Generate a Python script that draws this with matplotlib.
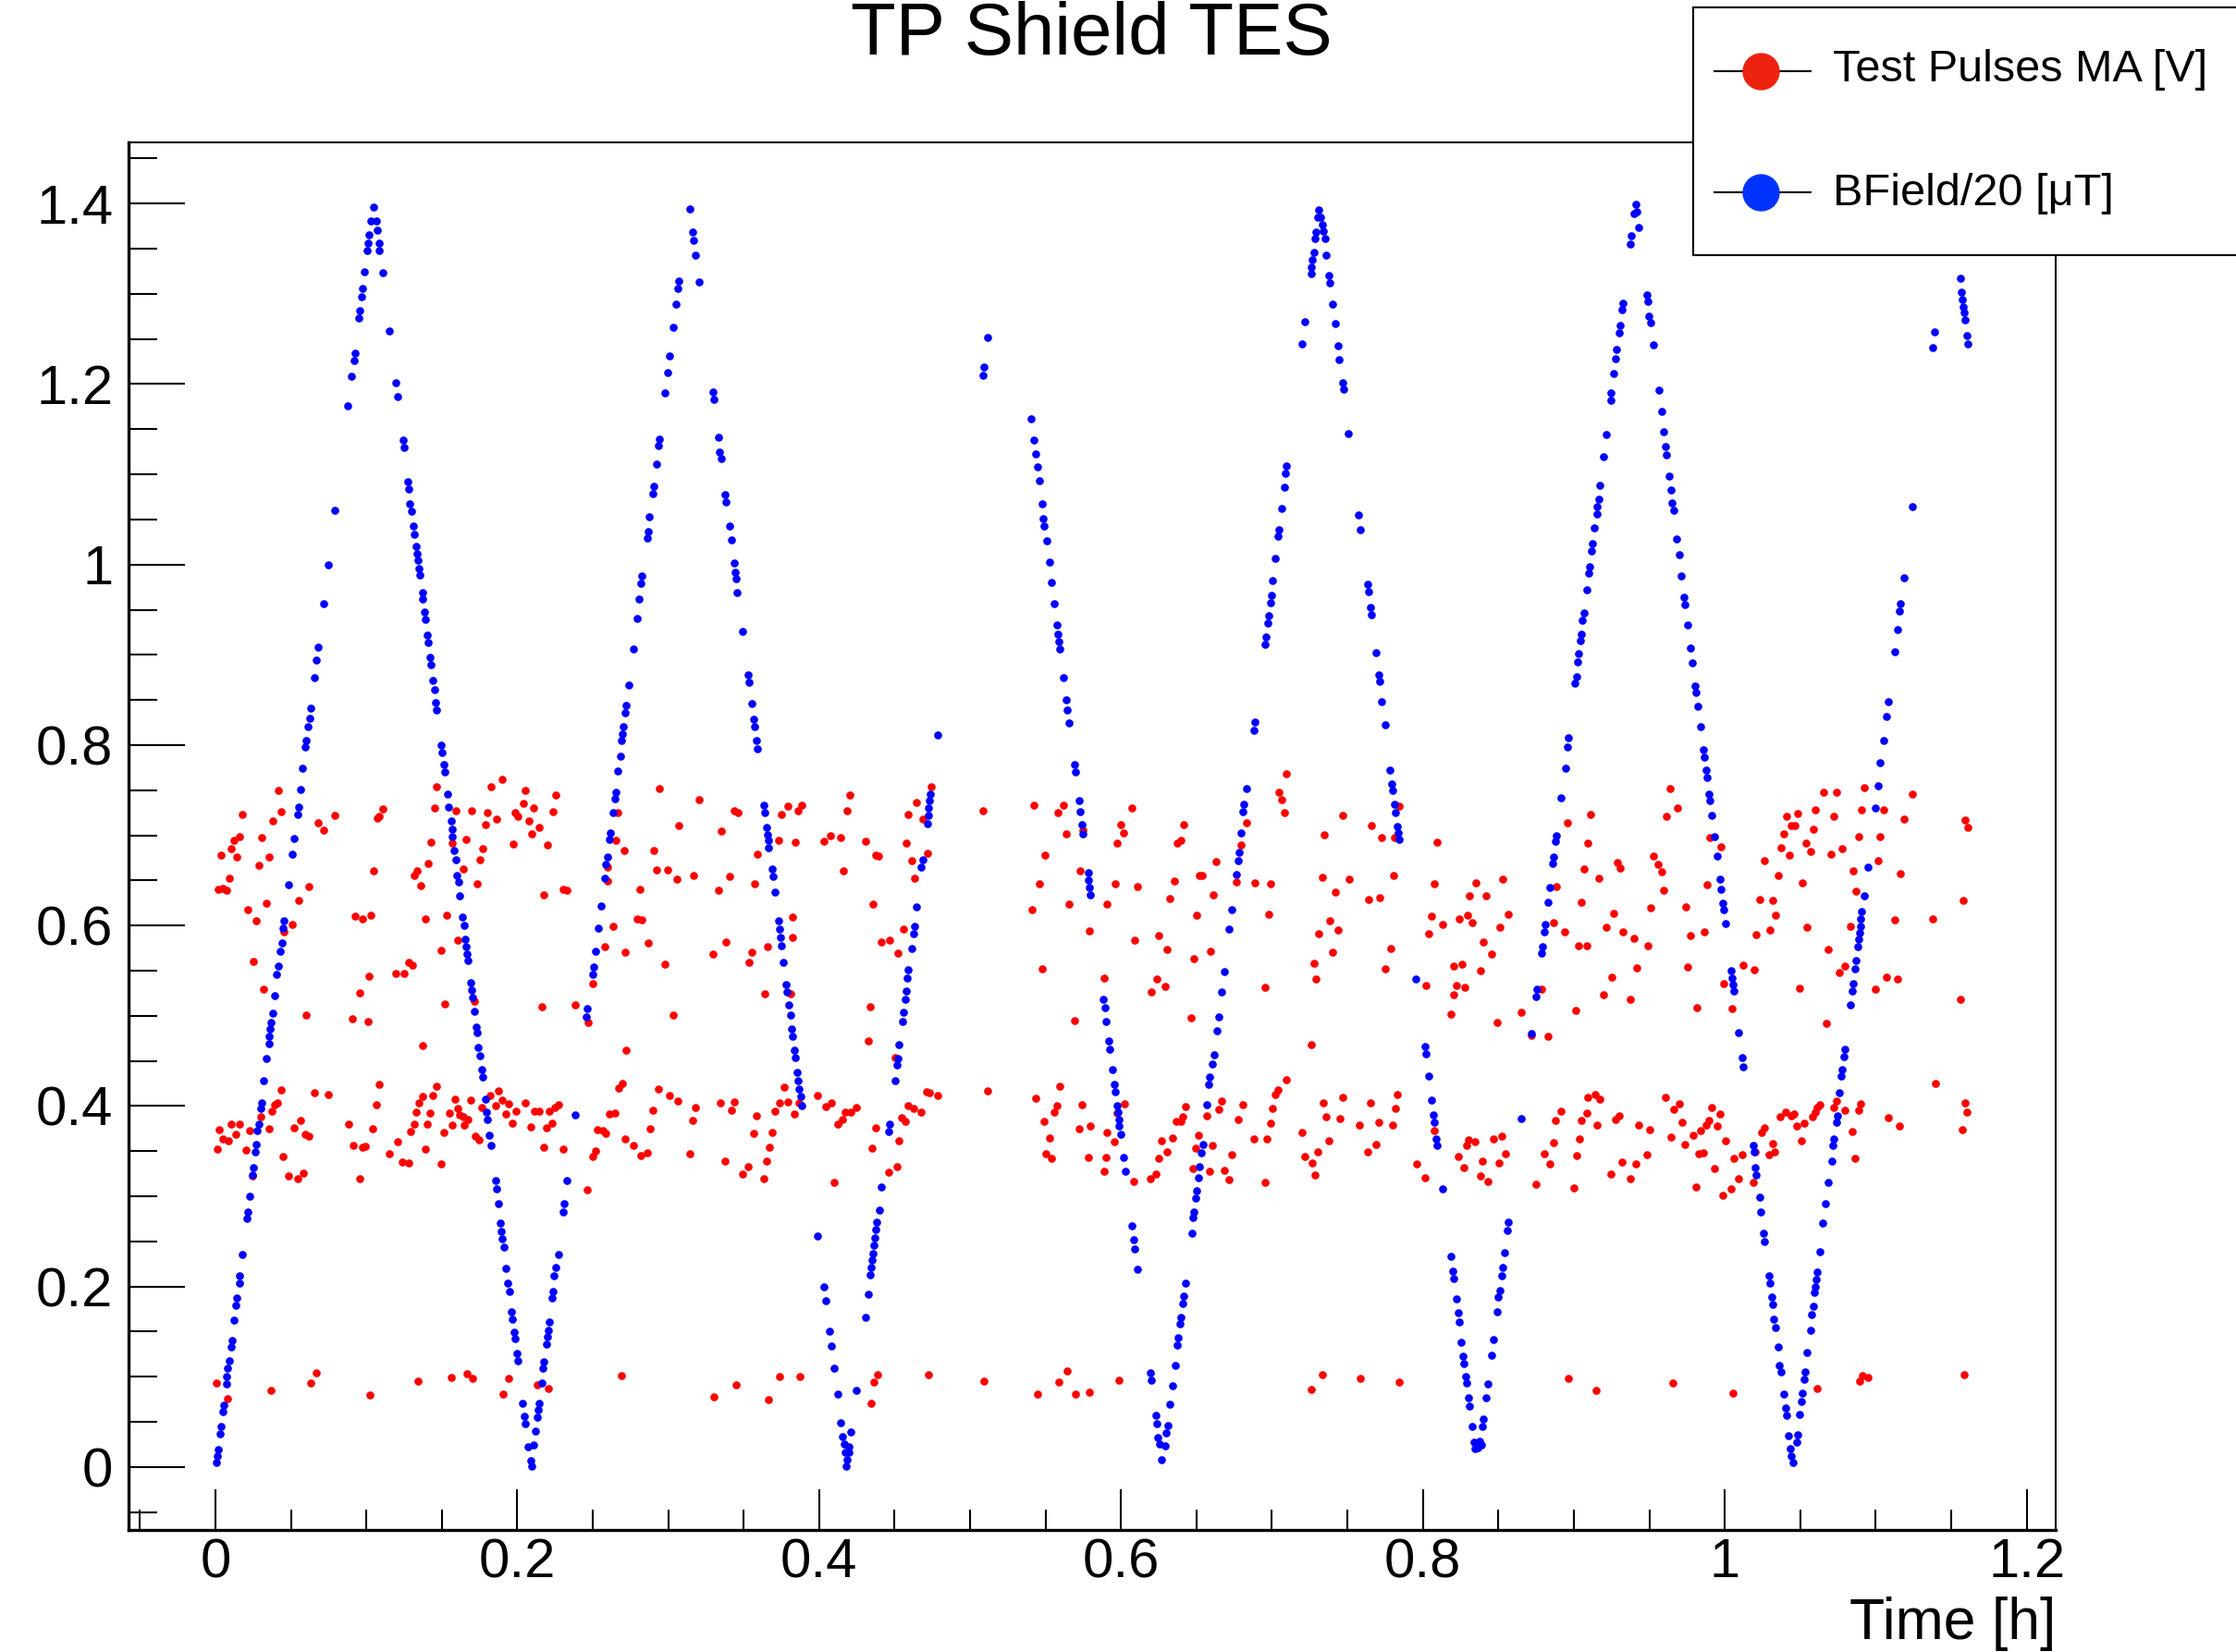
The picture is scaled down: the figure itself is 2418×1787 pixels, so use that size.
import matplotlib
matplotlib.use('Agg')
from matplotlib import pyplot as plt
from matplotlib.patches import Rectangle
from matplotlib.lines import Line2D
from matplotlib.ticker import MultipleLocator, FuncFormatter

# BField/20 [uT] vs time [h], one list per sweep
bfield_a = [
    (0.0007, 0.005), (0.0011, 0.012), (0.0018, 0.019), (0.0032, 0.037), (0.0038, 0.045), (0.0047, 0.061),
    (0.0056, 0.069), (0.0072, 0.092), (0.0077, 0.100), (0.0083, 0.109), (0.0091, 0.118), (0.0102, 0.133),
    (0.0108, 0.140), (0.0125, 0.163), (0.0135, 0.179), (0.0144, 0.187), (0.0157, 0.204), (0.0163, 0.212),
    (0.0180, 0.235), (0.0208, 0.275), (0.0214, 0.283), (0.0227, 0.300), (0.0246, 0.324), (0.0252, 0.332),
    (0.0264, 0.349), (0.0271, 0.357), (0.0279, 0.373), (0.0287, 0.380), (0.0298, 0.397), (0.0306, 0.404),
    (0.0321, 0.428), (0.0340, 0.453), (0.0353, 0.469), (0.0357, 0.477), (0.0363, 0.485), (0.0370, 0.493),
    (0.0378, 0.503), (0.0391, 0.522), (0.0408, 0.546), (0.0416, 0.555), (0.0431, 0.572), (0.0439, 0.581),
    (0.0450, 0.597), (0.0454, 0.605), (0.0484, 0.645), (0.0509, 0.679), (0.0520, 0.696), (0.0543, 0.723),
    (0.0549, 0.731), (0.0564, 0.751), (0.0579, 0.774), (0.0598, 0.798), (0.0604, 0.805), (0.0614, 0.820),
    (0.0623, 0.830), (0.0630, 0.841), (0.0655, 0.875), (0.0670, 0.894), (0.0680, 0.909), (0.0716, 0.957),
    (0.0747, 1.000), (0.0794, 1.060), (0.0878, 1.176), (0.0904, 1.209), (0.0917, 1.226), (0.0925, 1.234),
    (0.0951, 1.273), (0.0957, 1.281), (0.0969, 1.297), (0.0975, 1.306), (0.0988, 1.324), (0.1007, 1.348),
    (0.1011, 1.356), (0.1019, 1.365), (0.1028, 1.381), (0.1050, 1.396), (0.1066, 1.381), (0.1071, 1.371),
    (0.1083, 1.356), (0.1087, 1.348), (0.1107, 1.323), (0.1153, 1.259), (0.1197, 1.202), (0.1207, 1.186),
    (0.1243, 1.138), (0.1251, 1.130), (0.1277, 1.092), (0.1283, 1.084), (0.1290, 1.067), (0.1300, 1.059),
    (0.1313, 1.043), (0.1319, 1.034), (0.1328, 1.020), (0.1334, 1.012), (0.1341, 1.005), (0.1347, 0.996),
    (0.1353, 0.988), (0.1370, 0.969), (0.1376, 0.962), (0.1386, 0.947), (0.1390, 0.939), (0.1403, 0.922),
    (0.1409, 0.914), (0.1420, 0.897), (0.1429, 0.889), (0.1443, 0.872), (0.1450, 0.861), (0.1460, 0.847),
    (0.1464, 0.839), (0.1497, 0.800), (0.1503, 0.792), (0.1514, 0.778), (0.1520, 0.770), (0.1537, 0.746),
    (0.1547, 0.731), (0.1562, 0.716), (0.1569, 0.707), (0.1572, 0.699), (0.1583, 0.683), (0.1593, 0.673),
    (0.1602, 0.656), (0.1610, 0.648), (0.1621, 0.633), (0.1638, 0.609), (0.1646, 0.600), (0.1655, 0.585),
    (0.1661, 0.577), (0.1667, 0.568), (0.1674, 0.561), (0.1693, 0.537), (0.1699, 0.528), (0.1703, 0.520),
    (0.1718, 0.505), (0.1731, 0.488), (0.1737, 0.481), (0.1743, 0.465), (0.1752, 0.456), (0.1765, 0.440),
    (0.1771, 0.432), (0.1788, 0.408), (0.1798, 0.393), (0.1802, 0.385), (0.1817, 0.368), (0.1826, 0.356),
    (0.1855, 0.317), (0.1861, 0.308), (0.1874, 0.292), (0.1889, 0.270), (0.1895, 0.261), (0.1902, 0.253),
    (0.1910, 0.244), (0.1927, 0.220), (0.1937, 0.204), (0.1946, 0.195), (0.1963, 0.172), (0.1969, 0.164),
    (0.1978, 0.149), (0.1984, 0.142), (0.1997, 0.126), (0.2003, 0.118), (0.2037, 0.071), (0.2045, 0.056),
    (0.2051, 0.048), (0.2073, 0.022), (0.2087, 0.007), (0.2094, 0.001), (0.2111, 0.024), (0.2121, 0.040),
    (0.2132, 0.055), (0.2138, 0.063), (0.2144, 0.071), (0.2161, 0.093), (0.2171, 0.109), (0.2178, 0.117),
    (0.2195, 0.136), (0.2201, 0.144), (0.2207, 0.152), (0.2214, 0.161), (0.2233, 0.187), (0.2239, 0.195),
    (0.2245, 0.212), (0.2256, 0.221), (0.2271, 0.236), (0.2304, 0.283), (0.2310, 0.292), (0.2330, 0.317),
    (0.2384, 0.390), (0.2456, 0.499), (0.2463, 0.508), (0.2498, 0.546), (0.2505, 0.554), (0.2517, 0.571),
    (0.2534, 0.597), (0.2555, 0.622), (0.2578, 0.652), (0.2589, 0.668), (0.2596, 0.676), (0.2611, 0.695),
    (0.2615, 0.703),
]

bfield_b = [
    (0.2634, 0.725), (0.2646, 0.741), (0.2653, 0.748), (0.2668, 0.771), (0.2682, 0.788), (0.2691, 0.805),
    (0.2697, 0.812), (0.2703, 0.820), (0.2716, 0.836), (0.2722, 0.844), (0.2739, 0.867), (0.2769, 0.907),
    (0.2794, 0.940), (0.2809, 0.962), (0.2821, 0.979), (0.2828, 0.987), (0.2861, 1.029), (0.2866, 1.037),
    (0.2877, 1.053), (0.2896, 1.079), (0.2904, 1.087), (0.2921, 1.111), (0.2935, 1.132), (0.2941, 1.139),
    (0.2979, 1.190), (0.2997, 1.213), (0.3009, 1.231), (0.3035, 1.263), (0.3054, 1.289), (0.3066, 1.306),
    (0.3073, 1.314), (0.3145, 1.394), (0.3161, 1.368), (0.3170, 1.359), (0.3183, 1.343), (0.3203, 1.313),
    (0.3294, 1.191), (0.3303, 1.183), (0.3332, 1.141), (0.3340, 1.125), (0.3349, 1.118), (0.3379, 1.078),
    (0.3385, 1.069), (0.3404, 1.043), (0.3417, 1.027), (0.3436, 1.002), (0.3442, 0.992), (0.3448, 0.984),
    (0.3459, 0.969), (0.3492, 0.926), (0.3529, 0.878), (0.3535, 0.870), (0.3554, 0.846), (0.3567, 0.829),
    (0.3573, 0.820), (0.3583, 0.805), (0.3589, 0.796), (0.3636, 0.733), (0.3642, 0.725), (0.3650, 0.709),
    (0.3657, 0.701), (0.3665, 0.694), (0.3667, 0.686), (0.3689, 0.663), (0.3695, 0.654), (0.3706, 0.637),
    (0.3731, 0.605), (0.3738, 0.596), (0.3746, 0.587), (0.3752, 0.578), (0.3765, 0.559), (0.3782, 0.535),
    (0.3788, 0.526), (0.3801, 0.512), (0.3809, 0.501), (0.3819, 0.485), (0.3826, 0.477), (0.3836, 0.462),
    (0.3843, 0.454), (0.3857, 0.437), (0.3862, 0.428), (0.3868, 0.419), (0.3877, 0.411), (0.3885, 0.400),
    (0.3991, 0.256), (0.4030, 0.200), (0.4045, 0.184), (0.4071, 0.150), (0.4081, 0.134), (0.4100, 0.110),
    (0.4121, 0.081), (0.4143, 0.049), (0.4157, 0.034), (0.4164, 0.025), (0.4172, 0.016), (0.4181, 0.001),
    (0.4186, 0.008), (0.4195, 0.016), (0.4199, 0.022), (0.4212, 0.039), (0.4246, 0.085), (0.4307, 0.166),
    (0.4326, 0.191), (0.4340, 0.213), (0.4347, 0.221), (0.4351, 0.229), (0.4358, 0.237), (0.4364, 0.246),
    (0.4370, 0.254), (0.4377, 0.263), (0.4383, 0.271), (0.4397, 0.285), (0.4412, 0.310), (0.4459, 0.372),
    (0.4467, 0.380), (0.4503, 0.428), (0.4516, 0.445), (0.4522, 0.453), (0.4530, 0.468), (0.4552, 0.494),
    (0.4558, 0.504), (0.4570, 0.518), (0.4577, 0.527), (0.4583, 0.542), (0.4592, 0.551), (0.4611, 0.575),
    (0.4626, 0.591), (0.4632, 0.599), (0.4647, 0.621), (0.4676, 0.665), (0.4685, 0.673), (0.4716, 0.713),
    (0.4722, 0.722), (0.4727, 0.730), (0.4733, 0.738), (0.4737, 0.746), (0.4786, 0.811),
]

bfield_c = [
    (0.5085, 1.210), (0.5094, 1.219), (0.5114, 1.252),
    (0.5406, 1.162), (0.5423, 1.138), (0.5433, 1.123), (0.5446, 1.108), (0.5459, 1.093), (0.5476, 1.067),
    (0.5486, 1.051), (0.5493, 1.043), (0.5507, 1.026), (0.5524, 1.003), (0.5539, 0.980), (0.5558, 0.957),
    (0.5577, 0.933), (0.5584, 0.923), (0.5587, 0.915), (0.5594, 0.906), (0.5617, 0.875), (0.5638, 0.850),
    (0.5644, 0.839), (0.5657, 0.825), (0.5691, 0.778), (0.5698, 0.770), (0.5723, 0.738), (0.5731, 0.726),
    (0.5739, 0.712), (0.5748, 0.702), (0.5781, 0.659), (0.5786, 0.650), (0.5792, 0.642), (0.5799, 0.634),
    (0.5883, 0.518), (0.5892, 0.509), (0.5902, 0.494), (0.5921, 0.472), (0.5927, 0.463), (0.5942, 0.440),
    (0.5955, 0.424), (0.5963, 0.416), (0.5976, 0.400), (0.5980, 0.393), (0.5984, 0.385), (0.5989, 0.378),
    (0.5997, 0.369), (0.6016, 0.343), (0.6027, 0.328), (0.6073, 0.267), (0.6084, 0.252), (0.6092, 0.242),
    (0.6111, 0.219), (0.6193, 0.104), (0.6200, 0.096), (0.6231, 0.057), (0.6237, 0.048), (0.6246, 0.033),
    (0.6253, 0.025), (0.6265, 0.008), (0.6293, 0.023), (0.6301, 0.038), (0.6309, 0.046), (0.6324, 0.070),
    (0.6341, 0.090), (0.6358, 0.113), (0.6372, 0.135), (0.6379, 0.143), (0.6391, 0.159), (0.6398, 0.166),
    (0.6408, 0.181), (0.6415, 0.189), (0.6425, 0.204), (0.6468, 0.259), (0.6476, 0.276), (0.6484, 0.283),
    (0.6495, 0.298), (0.6503, 0.306), (0.6514, 0.321), (0.6522, 0.333), (0.6533, 0.348), (0.6541, 0.357),
    (0.6570, 0.401), (0.6582, 0.424), (0.6588, 0.432), (0.6607, 0.447), (0.6615, 0.457), (0.6634, 0.483),
    (0.6645, 0.499), (0.6666, 0.526), (0.6685, 0.549), (0.6717, 0.596), (0.6734, 0.618), (0.6763, 0.657),
    (0.6774, 0.672), (0.6780, 0.681), (0.6794, 0.703), (0.6809, 0.726), (0.6815, 0.734), (0.6832, 0.752),
    (0.6879, 0.816), (0.6887, 0.826), (0.6953, 0.912), (0.6959, 0.920), (0.6970, 0.935), (0.6978, 0.943),
    (0.6989, 0.958), (0.6995, 0.966), (0.7006, 0.982), (0.7022, 1.007), (0.7039, 1.031), (0.7048, 1.039),
    (0.7065, 1.062), (0.7082, 1.086), (0.7092, 1.101), (0.7098, 1.109), (0.7200, 1.245), (0.7219, 1.269),
    (0.7259, 1.322), (0.7263, 1.330), (0.7269, 1.338), (0.7276, 1.346), (0.7284, 1.361), (0.7291, 1.369),
    (0.7301, 1.385), (0.7311, 1.393), (0.7322, 1.385), (0.7335, 1.377), (0.7341, 1.370), (0.7350, 1.361),
    (0.7360, 1.343), (0.7377, 1.320), (0.7384, 1.312), (0.7401, 1.289), (0.7417, 1.267), (0.7436, 1.243),
    (0.7447, 1.227), (0.7466, 1.202), (0.7472, 1.194), (0.7507, 1.145), (0.7576, 1.055), (0.7588, 1.039),
    (0.7634, 0.978), (0.7640, 0.970), (0.7652, 0.953), (0.7658, 0.944), (0.7690, 0.902), (0.7706, 0.878),
    (0.7712, 0.871), (0.7727, 0.848), (0.7748, 0.822), (0.7782, 0.772), (0.7792, 0.757), (0.7799, 0.750),
    (0.7814, 0.734), (0.7820, 0.725), (0.7829, 0.710), (0.7835, 0.703), (0.7841, 0.695),
    (0.7955, 0.541), (0.8014, 0.466), (0.8020, 0.458), (0.8038, 0.433), (0.8058, 0.407), (0.8071, 0.390),
    (0.8077, 0.382), (0.8088, 0.364), (0.8096, 0.356), (0.8132, 0.308), (0.8187, 0.233), (0.8200, 0.217),
    (0.8206, 0.209), (0.8223, 0.186), (0.8233, 0.171), (0.8239, 0.161), (0.8256, 0.138), (0.8267, 0.123),
    (0.8273, 0.115), (0.8286, 0.100), (0.8292, 0.093), (0.8301, 0.077), (0.8307, 0.068), (0.8326, 0.045),
    (0.8339, 0.028), (0.8345, 0.020), (0.8356, 0.024), (0.8366, 0.021), (0.8377, 0.029), (0.8385, 0.024),
    (0.8396, 0.045), (0.8402, 0.053), (0.8419, 0.077), (0.8430, 0.092), (0.8457, 0.124), (0.8468, 0.141),
    (0.8491, 0.172), (0.8501, 0.188), (0.8508, 0.196), (0.8525, 0.212), (0.8531, 0.221), (0.8540, 0.238),
    (0.8557, 0.262), (0.8563, 0.271), (0.8651, 0.386), (0.8721, 0.480), (0.8751, 0.521), (0.8757, 0.530),
    (0.8787, 0.569), (0.8793, 0.577), (0.8804, 0.593), (0.8810, 0.601), (0.8829, 0.626), (0.8842, 0.642),
    (0.8858, 0.669), (0.8865, 0.676), (0.8879, 0.693), (0.8886, 0.700),
]

bfield_d = [
    (0.8915, 0.742), (0.8943, 0.774), (0.8957, 0.798), (0.8964, 0.808), (0.9008, 0.869), (0.9017, 0.876),
    (0.9027, 0.892), (0.9033, 0.901), (0.9044, 0.916), (0.9050, 0.923), (0.9058, 0.938), (0.9065, 0.946),
    (0.9086, 0.972), (0.9101, 0.990), (0.9107, 0.998), (0.9119, 1.015), (0.9126, 1.023), (0.9138, 1.041),
    (0.9151, 1.056), (0.9156, 1.064), (0.9164, 1.072), (0.9175, 1.088), (0.9195, 1.120), (0.9215, 1.144),
    (0.9245, 1.182), (0.9248, 1.190), (0.9265, 1.212), (0.9276, 1.228), (0.9284, 1.238), (0.9299, 1.257),
    (0.9308, 1.265), (0.9318, 1.282), (0.9324, 1.290), (0.9373, 1.355), (0.9381, 1.364), (0.9396, 1.389),
    (0.9411, 1.399), (0.9419, 1.391), (0.9430, 1.374), (0.9483, 1.299), (0.9489, 1.292), (0.9498, 1.275),
    (0.9506, 1.268), (0.9525, 1.244), (0.9563, 1.193), (0.9580, 1.170), (0.9594, 1.147), (0.9607, 1.131),
    (0.9616, 1.122), (0.9633, 1.098), (0.9643, 1.083), (0.9652, 1.068), (0.9660, 1.060), (0.9683, 1.028),
    (0.9698, 1.011), (0.9713, 0.987), (0.9730, 0.964), (0.9738, 0.956), (0.9757, 0.933), (0.9772, 0.908),
    (0.9784, 0.891), (0.9803, 0.866), (0.9812, 0.858), (0.9823, 0.843), (0.9837, 0.820), (0.9856, 0.795),
    (0.9865, 0.787), (0.9875, 0.772), (0.9881, 0.764), (0.9894, 0.746), (0.9900, 0.738), (0.9911, 0.722),
    (0.9932, 0.699), (0.9947, 0.677), (0.9966, 0.651), (0.9974, 0.640), (0.9985, 0.625), (0.9993, 0.618),
    (1.0004, 0.602), (1.0044, 0.550), (1.0050, 0.542), (1.0057, 0.535), (1.0063, 0.527), (1.0092, 0.481),
    (1.0116, 0.454), (1.0122, 0.443), (1.0187, 0.356), (1.0193, 0.349), (1.0203, 0.332), (1.0210, 0.324),
    (1.0231, 0.299), (1.0241, 0.283), (1.0258, 0.259), (1.0264, 0.250), (1.0291, 0.212), (1.0297, 0.204),
    (1.0310, 0.188), (1.0318, 0.180), (1.0325, 0.164), (1.0333, 0.155), (1.0352, 0.133), (1.0363, 0.113),
    (1.0371, 0.105), (1.0390, 0.081), (1.0401, 0.065), (1.0407, 0.057), (1.0422, 0.035), (1.0435, 0.020),
    (1.0439, 0.012), (1.0451, 0.005), (1.0475, 0.028), (1.0481, 0.036), (1.0496, 0.058), (1.0506, 0.073),
    (1.0515, 0.082), (1.0525, 0.097), (1.0531, 0.105), (1.0546, 0.127), (1.0567, 0.152), (1.0578, 0.169),
    (1.0586, 0.178), (1.0594, 0.193), (1.0601, 0.200), (1.0607, 0.208), (1.0613, 0.216), (1.0632, 0.239),
    (1.0651, 0.270), (1.0669, 0.292), (1.0688, 0.315), (1.0707, 0.339), (1.0717, 0.356), (1.0723, 0.364),
    (1.0739, 0.382), (1.0745, 0.389), (1.0761, 0.415), (1.0774, 0.433), (1.0780, 0.440), (1.0789, 0.455),
    (1.0795, 0.463), (1.0833, 0.512), (1.0844, 0.527), (1.0850, 0.536), (1.0863, 0.552), (1.0869, 0.561),
    (1.0882, 0.577), (1.0888, 0.585), (1.0893, 0.592), (1.0897, 0.599), (1.0901, 0.607), (1.0907, 0.616),
    (1.0922, 0.633), (1.0947, 0.665), (1.0996, 0.730), (1.1017, 0.755), (1.1031, 0.780), (1.1052, 0.805),
    (1.1073, 0.832), (1.1082, 0.848), (1.1124, 0.903), (1.1143, 0.928), (1.1155, 0.949), (1.1162, 0.957),
    (1.1185, 0.985), (1.1244, 1.064), (1.1375, 1.240), (1.1392, 1.258), (1.1559, 1.317), (1.1569, 1.302),
    (1.1576, 1.294), (1.1582, 1.286), (1.1586, 1.279), (1.1593, 1.271), (1.1603, 1.254), (1.1611, 1.245),
]

# Test Pulses MA [V], three amplitude bands
pulses_high = [
    (0.0125, 0.694), (0.0161, 0.699), (0.0180, 0.723), (0.0306, 0.697), (0.0378, 0.716), (0.0416, 0.750),
    (0.0437, 0.726), (0.0682, 0.714), (0.0716, 0.706), (0.0794, 0.722), (0.1071, 0.719), (0.1088, 0.721),
    (0.1107, 0.729), (0.1429, 0.692), (0.1450, 0.730), (0.1467, 0.754), (0.1570, 0.691), (0.1592, 0.727),
    (0.1664, 0.695), (0.1699, 0.727), (0.1790, 0.712), (0.1804, 0.725), (0.1828, 0.754), (0.1861, 0.718),
    (0.1899, 0.762), (0.1971, 0.690), (0.1986, 0.725), (0.2005, 0.721), (0.2039, 0.735), (0.2055, 0.750),
    (0.2077, 0.716), (0.2094, 0.702), (0.2111, 0.730), (0.2146, 0.709), (0.2201, 0.689), (0.2237, 0.726),
    (0.2258, 0.745), (0.2651, 0.694), (0.2668, 0.725),
    (0.0037, 0.678), (0.0106, 0.685), (0.0144, 0.676), (0.0091, 0.652), (0.0018, 0.640), (0.0051, 0.641),
    (0.0072, 0.639), (0.0214, 0.618), (0.0268, 0.605), (0.0252, 0.560), (0.0321, 0.530), (0.0287, 0.667),
    (0.0340, 0.625), (0.0359, 0.676), (0.0454, 0.593), (0.0509, 0.601), (0.0549, 0.628), (0.0602, 0.501),
    (0.0621, 0.643), (0.0908, 0.497), (0.0923, 0.610), (0.0977, 0.607), (0.1032, 0.611), (0.0956, 0.525),
    (0.1009, 0.494), (0.1015, 0.544), (0.1049, 0.661), (0.1195, 0.547), (0.1252, 0.547), (0.1284, 0.559),
    (0.1307, 0.556), (0.1315, 0.656), (0.1339, 0.661), (0.1358, 0.644), (0.1376, 0.467), (0.1390, 0.607),
    (0.1409, 0.669), (0.1498, 0.573), (0.1519, 0.513), (0.1534, 0.611), (0.1606, 0.584), (0.1642, 0.663),
    (0.1714, 0.516), (0.1735, 0.646), (0.1754, 0.673), (0.1771, 0.685), (0.2161, 0.510), (0.2178, 0.634),
    (0.2302, 0.640), (0.2330, 0.639), (0.2383, 0.512), (0.2469, 0.493), (0.2503, 0.536), (0.2579, 0.577),
    (0.2600, 0.665), (0.2600, 0.649), (0.2632, 0.599), (0.2706, 0.683), (0.2716, 0.570), (0.2722, 0.462),
    (0.2942, 0.752), (0.3073, 0.711), (0.3203, 0.740), (0.3349, 0.705), (0.3440, 0.727), (0.3461, 0.725),
    (0.3731, 0.694), (0.3752, 0.723), (0.3790, 0.732), (0.3840, 0.692), (0.3862, 0.727), (0.3883, 0.733),
    (0.4031, 0.693), (0.4073, 0.700), (0.4144, 0.697), (0.4182, 0.727), (0.4202, 0.745), (0.4305, 0.693),
    (0.4579, 0.691), (0.4592, 0.723), (0.4647, 0.736), (0.4685, 0.718), (0.4740, 0.754), (0.5085, 0.727),
    (0.5423, 0.733), (0.5584, 0.725), (0.5619, 0.733), (0.5638, 0.702), (0.5750, 0.706),
    (0.2904, 0.683), (0.2923, 0.662), (0.2999, 0.662), (0.3056, 0.651), (0.2811, 0.640), (0.2794, 0.607),
    (0.2828, 0.606), (0.2866, 0.581), (0.2979, 0.557), (0.3035, 0.501), (0.3170, 0.656), (0.3335, 0.639),
    (0.3404, 0.654), (0.3294, 0.568), (0.3385, 0.582), (0.3535, 0.559), (0.3551, 0.570), (0.3571, 0.646),
    (0.3588, 0.679), (0.3659, 0.577), (0.3640, 0.524), (0.3822, 0.609), (0.3826, 0.587), (0.3809, 0.524),
    (0.4163, 0.661), (0.4359, 0.624), (0.4372, 0.678), (0.4395, 0.677), (0.4340, 0.510), (0.4326, 0.472),
    (0.4412, 0.582), (0.4467, 0.584), (0.4520, 0.569), (0.4558, 0.596), (0.4611, 0.672), (0.4630, 0.652),
    (0.4721, 0.680), (0.4501, 0.454), (0.5409, 0.618), (0.5459, 0.646), (0.5495, 0.678), (0.5476, 0.552),
    (0.5657, 0.624), (0.5693, 0.495), (0.5727, 0.661), (0.5788, 0.594), (0.5891, 0.542), (0.5908, 0.624),
    (0.5976, 0.691), (0.5997, 0.712), (0.6016, 0.703), (0.6073, 0.730), (0.6373, 0.691), (0.6398, 0.694),
    (0.6415, 0.712), (0.6794, 0.689), (0.6830, 0.714), (0.7048, 0.748), (0.7065, 0.740), (0.7082, 0.725),
    (0.7098, 0.768), (0.7348, 0.701), (0.7469, 0.722), (0.7658, 0.711), (0.7727, 0.698), (0.7814, 0.698),
    (0.7843, 0.732), (0.8096, 0.692), (0.8957, 0.714), (0.9111, 0.723),
    (0.5963, 0.646), (0.6111, 0.643), (0.6092, 0.584), (0.6252, 0.589), (0.6305, 0.574), (0.6324, 0.630),
    (0.6355, 0.649), (0.6200, 0.526), (0.6237, 0.541), (0.6290, 0.533), (0.6466, 0.498), (0.6482, 0.563),
    (0.6501, 0.611), (0.6520, 0.656), (0.6540, 0.656), (0.6594, 0.571), (0.6613, 0.634), (0.6632, 0.671),
    (0.6763, 0.648), (0.6888, 0.647), (0.6994, 0.646), (0.6977, 0.612), (0.6957, 0.532), (0.7259, 0.468),
    (0.7276, 0.558), (0.7293, 0.541), (0.7310, 0.591), (0.7385, 0.605), (0.7436, 0.595), (0.7331, 0.653),
    (0.7401, 0.570), (0.7417, 0.637), (0.7510, 0.651), (0.7639, 0.629), (0.7712, 0.631), (0.7748, 0.552),
    (0.7786, 0.575), (0.7803, 0.656), (0.8019, 0.534), (0.8038, 0.591), (0.8058, 0.610), (0.8077, 0.646),
    (0.8132, 0.601), (0.8187, 0.502), (0.8202, 0.523), (0.8206, 0.555), (0.8223, 0.534), (0.8240, 0.607),
    (0.8261, 0.557), (0.8278, 0.532), (0.8295, 0.611), (0.8311, 0.633), (0.8328, 0.603), (0.8349, 0.647),
    (0.8383, 0.550), (0.8402, 0.582), (0.8419, 0.633), (0.8457, 0.568), (0.8489, 0.493), (0.8510, 0.598),
    (0.8529, 0.651), (0.8563, 0.612), (0.8651, 0.504), (0.8721, 0.478), (0.8788, 0.529), (0.8829, 0.477),
    (0.8887, 0.643), (0.8866, 0.603), (0.8940, 0.593), (0.9014, 0.506), (0.9031, 0.578), (0.9084, 0.578),
    (0.9052, 0.626), (0.9069, 0.663), (0.9094, 0.691),
    (0.9616, 0.721), (0.9635, 0.752), (0.9688, 0.730), (0.9898, 0.697), (1.0390, 0.702), (1.0409, 0.721),
    (1.0439, 0.711), (1.0462, 0.711), (1.0481, 0.724), (1.0536, 0.691), (1.0586, 0.707), (1.0600, 0.728),
    (1.0653, 0.748), (1.0725, 0.721), (1.0742, 0.748), (1.0890, 0.699), (1.0905, 0.728), (1.0924, 0.753),
    (1.1031, 0.699), (1.1052, 0.728), (1.1187, 0.718), (1.1244, 0.746), (1.1592, 0.717), (1.1611, 0.709),
    (0.9164, 0.652), (0.9215, 0.598), (0.9250, 0.543), (0.9195, 0.523), (0.9266, 0.614), (0.9287, 0.670),
    (0.9308, 0.664), (0.9323, 0.593), (0.9397, 0.586), (0.9377, 0.518), (0.9415, 0.553), (0.9489, 0.578),
    (0.9506, 0.620), (0.9525, 0.677), (0.9561, 0.668), (0.9582, 0.660), (0.9597, 0.639), (0.9740, 0.621),
    (0.9757, 0.554), (0.9774, 0.589), (0.9814, 0.509), (0.9866, 0.593), (0.9883, 0.645), (0.9973, 0.687),
    (0.9993, 0.536), (1.0048, 0.508), (1.0122, 0.556), (1.0194, 0.551), (1.0209, 0.590), (1.0230, 0.629),
    (1.0265, 0.672), (1.0318, 0.628), (1.0335, 0.611), (1.0298, 0.595), (1.0354, 0.655), (1.0375, 0.686),
    (1.0428, 0.678), (1.0496, 0.531), (1.0515, 0.647), (1.0568, 0.682), (1.0546, 0.598), (1.0670, 0.492),
    (1.0687, 0.574), (1.0706, 0.679), (1.0779, 0.685), (1.0761, 0.548), (1.0797, 0.555), (1.0833, 0.599),
    (1.0852, 0.661), (1.0870, 0.638), (1.1000, 0.529), (1.1019, 0.672), (1.1073, 0.543), (1.1143, 0.541),
    (1.1126, 0.606), (1.1166, 0.658), (1.1378, 0.607), (1.1561, 0.518), (1.1578, 0.628),
]

pulses_mid = [
    (0.0028, 0.374), (0.0047, 0.364), (0.0085, 0.361), (0.0011, 0.352), (0.0102, 0.380), (0.0157, 0.380),
    (0.0138, 0.369), (0.0205, 0.351), (0.0227, 0.373), (0.0248, 0.323), (0.0300, 0.388), (0.0353, 0.375),
    (0.0372, 0.394), (0.0395, 0.401), (0.0412, 0.403), (0.0433, 0.418), (0.0448, 0.344), (0.0486, 0.323),
    (0.0543, 0.320), (0.0581, 0.326), (0.0522, 0.376), (0.0564, 0.384), (0.0598, 0.369), (0.0621, 0.367),
    (0.0655, 0.415), (0.0750, 0.413), (0.0880, 0.380), (0.0916, 0.356), (0.0975, 0.354), (0.0996, 0.355),
    (0.0955, 0.320), (0.1043, 0.375), (0.1064, 0.401), (0.1085, 0.424), (0.1153, 0.347), (0.1208, 0.360),
    (0.1239, 0.338), (0.1282, 0.337), (0.1296, 0.372), (0.1317, 0.380), (0.1332, 0.393), (0.1349, 0.403),
    (0.1370, 0.411), (0.1389, 0.352), (0.1405, 0.380), (0.1424, 0.392), (0.1443, 0.412), (0.1462, 0.422),
    (0.1498, 0.336), (0.1515, 0.371), (0.1550, 0.392), (0.1566, 0.379), (0.1585, 0.408), (0.1604, 0.397),
    (0.1619, 0.390), (0.1640, 0.388), (0.1651, 0.379), (0.1674, 0.385), (0.1693, 0.407), (0.1724, 0.367),
    (0.1747, 0.363), (0.1766, 0.398), (0.1819, 0.412), (0.1874, 0.417), (0.1897, 0.407), (0.1940, 0.402),
    (0.1994, 0.394), (0.1855, 0.400), (0.1925, 0.391), (0.1967, 0.381), (0.2051, 0.403), (0.2089, 0.377),
    (0.2114, 0.394), (0.2144, 0.394), (0.2174, 0.354), (0.2195, 0.376), (0.2214, 0.394), (0.2233, 0.381),
    (0.2252, 0.398), (0.2273, 0.401), (0.2307, 0.352), (0.2463, 0.307), (0.2500, 0.344), (0.2517, 0.350),
    (0.2531, 0.374), (0.2568, 0.373), (0.2589, 0.370), (0.2611, 0.391), (0.2646, 0.392), (0.2673, 0.420),
    (0.2694, 0.425), (0.2716, 0.364),
    (0.2769, 0.356), (0.2821, 0.345), (0.2861, 0.348), (0.2878, 0.375), (0.2898, 0.395), (0.2935, 0.419),
    (0.3009, 0.412), (0.3064, 0.406), (0.3145, 0.347), (0.3164, 0.384), (0.3183, 0.398), (0.3343, 0.404),
    (0.3378, 0.339), (0.3419, 0.395), (0.3438, 0.405), (0.3493, 0.325), (0.3529, 0.333), (0.3568, 0.370),
    (0.3583, 0.389), (0.3636, 0.319), (0.3653, 0.339), (0.3672, 0.354), (0.3689, 0.371), (0.3706, 0.394),
    (0.3739, 0.404), (0.3767, 0.421), (0.3794, 0.405), (0.3836, 0.391), (0.3868, 0.403), (0.3991, 0.412),
    (0.4045, 0.399), (0.4083, 0.403), (0.4100, 0.315), (0.4124, 0.380), (0.4153, 0.385), (0.4174, 0.393),
    (0.4210, 0.393), (0.4246, 0.398), (0.4351, 0.353), (0.4372, 0.376), (0.4459, 0.327), (0.4516, 0.333),
    (0.4530, 0.361), (0.4549, 0.387), (0.4573, 0.383), (0.4587, 0.400), (0.4624, 0.397), (0.4678, 0.393),
    (0.4710, 0.416), (0.4733, 0.415), (0.4788, 0.412), (0.5114, 0.417), (0.5436, 0.409), (0.5489, 0.383),
    (0.5524, 0.365), (0.5505, 0.347), (0.5541, 0.342), (0.5560, 0.393), (0.5577, 0.400), (0.5596, 0.422),
    (0.5723, 0.375), (0.5743, 0.401), (0.5781, 0.343), (0.5799, 0.378), (0.5887, 0.328), (0.5908, 0.371),
    (0.5898, 0.343),
    (0.5957, 0.360), (0.5971, 0.392), (0.6025, 0.402), (0.6084, 0.316), (0.6195, 0.320), (0.6231, 0.325),
    (0.6248, 0.342), (0.6265, 0.362), (0.6303, 0.349), (0.6341, 0.365), (0.6368, 0.383), (0.6394, 0.383),
    (0.6411, 0.388), (0.6427, 0.399), (0.6474, 0.331), (0.6493, 0.353), (0.6512, 0.368), (0.6570, 0.389),
    (0.6588, 0.328), (0.6607, 0.356), (0.6645, 0.396), (0.6664, 0.406), (0.6683, 0.329), (0.6717, 0.318),
    (0.6734, 0.346), (0.6774, 0.385), (0.6810, 0.401), (0.6880, 0.364), (0.6953, 0.315), (0.6968, 0.364),
    (0.6989, 0.381), (0.7006, 0.397), (0.7022, 0.413), (0.7039, 0.418), (0.7094, 0.429), (0.7200, 0.371),
    (0.7216, 0.344), (0.7269, 0.337), (0.7288, 0.324), (0.7305, 0.349), (0.7341, 0.403), (0.7360, 0.388),
    (0.7379, 0.361), (0.7449, 0.386), (0.7466, 0.410), (0.7577, 0.379), (0.7634, 0.349), (0.7651, 0.404),
    (0.7691, 0.357), (0.7708, 0.382), (0.7797, 0.379), (0.7816, 0.397), (0.7833, 0.413), (0.7959, 0.336),
    (0.8014, 0.321), (0.8076, 0.373), (0.8234, 0.344), (0.8271, 0.332), (0.8288, 0.356), (0.8303, 0.363),
    (0.8346, 0.360), (0.8379, 0.323), (0.8396, 0.339), (0.8430, 0.316), (0.8466, 0.364), (0.8504, 0.337),
    (0.8520, 0.367), (0.8546, 0.347), (0.8752, 0.313), (0.8804, 0.347), (0.8844, 0.336), (0.8863, 0.359),
    (0.8880, 0.384), (0.8915, 0.394), (0.8999, 0.309), (0.9019, 0.345), (0.9036, 0.364), (0.9052, 0.384),
    (0.9084, 0.392), (0.9094, 0.410),
    (0.9139, 0.413), (0.9175, 0.408), (0.9156, 0.379), (0.9245, 0.325), (0.9320, 0.338), (0.9373, 0.320),
    (0.9409, 0.336), (0.9483, 0.346), (0.9278, 0.385), (0.9299, 0.389), (0.9428, 0.379), (0.9502, 0.374),
    (0.9609, 0.410), (0.9662, 0.396), (0.9698, 0.402), (0.9715, 0.382), (0.9646, 0.366), (0.9734, 0.357),
    (0.9789, 0.368), (0.9808, 0.310), (0.9825, 0.347), (0.9861, 0.348), (0.9842, 0.373), (0.9878, 0.379),
    (0.9897, 0.384), (0.9916, 0.398), (0.9950, 0.378), (0.9969, 0.391), (0.9932, 0.331), (0.9987, 0.301),
    (1.0004, 0.361), (1.0042, 0.308), (1.0059, 0.342), (1.0094, 0.320), (1.0113, 0.346), (1.0186, 0.315),
    (1.0203, 0.349), (1.0243, 0.371), (1.0262, 0.376), (1.0296, 0.346), (1.0315, 0.358), (1.0332, 0.349),
    (1.0369, 0.388), (1.0404, 0.393), (1.0439, 0.389), (1.0458, 0.391), (1.0474, 0.378), (1.0508, 0.361),
    (1.0525, 0.381), (1.0580, 0.388), (1.0597, 0.393), (1.0613, 0.398), (1.0632, 0.401), (1.0721, 0.398),
    (1.0742, 0.406), (1.0793, 0.395), (1.0846, 0.372), (1.0865, 0.342), (1.0886, 0.395), (1.0901, 0.402),
    (1.1084, 0.387), (1.1160, 0.378), (1.1393, 0.425), (1.1591, 0.404), (1.1607, 0.393), (1.1572, 0.374),
]

pulses_low = [
    (0.0007, 0.093), (0.0079, 0.076), (0.0366, 0.085), (0.0629, 0.093), (0.0670, 0.104), (0.1022, 0.080),
    (0.1342, 0.095), (0.1560, 0.099), (0.1667, 0.103), (0.1703, 0.098), (0.1906, 0.081), (0.1940, 0.098),
    (0.2132, 0.091), (0.2207, 0.087), (0.2690, 0.101), (0.3301, 0.078), (0.3448, 0.091), (0.3665, 0.075),
    (0.3739, 0.100), (0.3870, 0.100), (0.4347, 0.071), (0.4364, 0.094), (0.4385, 0.102), (0.4727, 0.102),
    (0.5092, 0.095), (0.5446, 0.081), (0.5587, 0.094), (0.5646, 0.106), (0.5698, 0.081), (0.5792, 0.083),
    (0.5987, 0.096), (0.7263, 0.086), (0.7335, 0.102), (0.7588, 0.098), (0.7843, 0.094), (0.8962, 0.098),
    (0.9150, 0.085), (0.9656, 0.093), (1.0055, 0.082), (1.0609, 0.087), (1.0894, 0.095), (1.0911, 0.101),
    (1.0949, 0.099), (1.1584, 0.102),
]

legend_labels = ['Test Pulses MA [V]', 'BField/20 [\u03bcT]']

plt.rcParams['font.family'] = ['Liberation Sans', 'DejaVu Sans']

fig = plt.figure(figsize=(24.18, 17.87), dpi=100)
ax = fig.add_axes([0.0575, 0.0739, 0.8619, 0.8400])

# red test pulses first, the field points sit on top of them
for band in (pulses_high, pulses_mid, pulses_low):
    t, v = zip(*band)
    ax.plot(t, v, 'o', color='#ff0000', ms=6.2, mec='none', ls='none')

t, v = zip(*(bfield_a + bfield_b + bfield_c + bfield_d))
ax.plot(t, v, 'o', color='#0000ff', ms=6.2, mec='none', ls='none')

ax.set_xlim(-0.0575, 1.2193)
ax.set_ylim(-0.0697, 1.468)

# ROOT style axes: ticks inside, only on left and bottom
ax.xaxis.set_major_locator(MultipleLocator(0.2))
ax.xaxis.set_minor_locator(MultipleLocator(0.05))
ax.yaxis.set_major_locator(MultipleLocator(0.2))
ax.yaxis.set_minor_locator(MultipleLocator(0.05))
fmt = FuncFormatter(lambda val, pos: '%g' % round(val, 3))
ax.xaxis.set_major_formatter(fmt)
ax.yaxis.set_major_formatter(fmt)

ax.tick_params(which='both', direction='in', top=False, right=False, width=1.5, labelsize=43)
ax.tick_params(axis='y', which='major', length=44, pad=12)
ax.tick_params(axis='y', which='minor', length=22)
ax.tick_params(axis='x', which='major', length=32, pad=6)
ax.tick_params(axis='x', which='minor', length=16)

ax.spines['left'].set_linewidth(2.4)
ax.spines['bottom'].set_linewidth(2.4)
ax.spines['top'].set_linewidth(1.5)
ax.spines['right'].set_linewidth(1.5)

fig.text(0.9197, 0.0078, 'Time [h]', ha='right', va='baseline', fontsize=45)
fig.text(0.488, 0.967, 'TP Shield TES', ha='center', va='baseline', fontsize=57.5)

# legend box drawn by hand, it runs off the right edge of the canvas
fig.add_artist(Rectangle((0.7572, 0.8456), 0.26, 0.1499, transform=fig.transFigure,
                         facecolor='white', edgecolor='black', lw=1.5, zorder=5))
legend_rows = [(0.9569, 0.9508, '#ee2211'), (0.8836, 0.8758, '#0033ff')]
for (y_mark, y_text, col), label in zip(legend_rows, legend_labels):
    fig.add_artist(Line2D([0.7668, 0.8097], [y_mark, y_mark], transform=fig.transFigure,
                          color='black', lw=1.5, zorder=6))
    fig.add_artist(Line2D([0.7874], [y_mark], transform=fig.transFigure, marker='o',
                          ms=29, color=col, mec='none', ls='none', zorder=7))
    fig.text(0.8197, y_text, label, ha='left', va='baseline', fontsize=35, zorder=8)

fig.savefig('out.png', dpi=100)
